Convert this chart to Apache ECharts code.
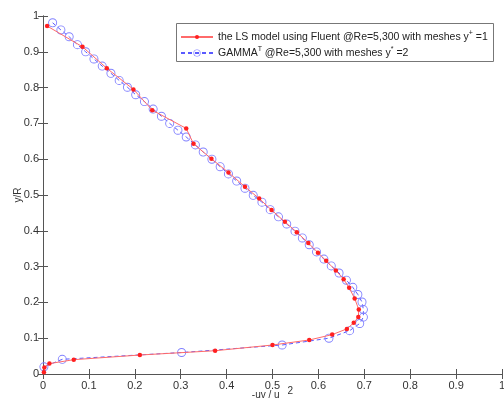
<!DOCTYPE html>
<html><head><meta charset="utf-8">
<script src="https://cdn.jsdelivr.net/npm/echarts@6/dist/echarts.min.js"></script>
<style>html,body{margin:0;padding:0;background:#fff}#c{width:504px;height:403px}</style>
</head><body><div id="c"></div>
<script>
var xTicks = [0,0.1,0.2,0.3,0.4,0.5,0.6,0.7,0.8,0.9,1];
var yTicks = [0,0.1,0.2,0.3,0.4,0.5,0.6,0.7,0.8,0.9,1];
var lsName = 'the LS model using Fluent @Re=5,300 with meshes y';
var gammaName = 'GAMMA';
// Red: LS model (Fluent)
var lsX = [0.009,0.086,0.139,0.197,0.238,0.312,0.328,0.367,0.404,0.440,0.471,0.498,0.527,0.553,0.578,0.599,0.617,0.638,0.655,0.667,0.679,0.688,0.687,0.677,0.662,0.630,0.580,0.500,0.375,0.211,0.067,0.014,0.003,0.002];
var lsY = [0.972,0.914,0.854,0.795,0.737,0.686,0.643,0.601,0.563,0.523,0.490,0.458,0.425,0.396,0.366,0.339,0.316,0.289,0.265,0.241,0.211,0.180,0.159,0.143,0.126,0.110,0.095,0.081,0.065,0.053,0.040,0.029,0.018,0.005];
// Blue: GAMMA^T
var gX = [0.021,0.039,0.057,0.075,0.093,0.111,0.129,0.148,0.166,0.184,0.202,0.221,0.240,0.258,0.276,0.294,0.312,0.332,0.349,0.368,0.386,0.404,0.422,0.440,0.458,0.477,0.495,0.513,0.531,0.549,0.565,0.580,0.596,0.612,0.628,0.645,0.661,0.675,0.686,0.695,0.698,0.698,0.690,0.668,0.623,0.521,0.302,0.042,0.002];
var gY = [0.981,0.961,0.942,0.920,0.900,0.880,0.860,0.840,0.820,0.801,0.780,0.761,0.740,0.720,0.700,0.681,0.662,0.640,0.620,0.600,0.579,0.559,0.539,0.519,0.499,0.480,0.459,0.439,0.419,0.399,0.380,0.361,0.341,0.321,0.302,0.282,0.262,0.242,0.222,0.201,0.180,0.159,0.141,0.121,0.100,0.081,0.060,0.041,0.020];

function pairs(xs, ys){ return xs.map(function(v,i){ return [v, ys[i]]; }); }
var font = 'Liberation Sans, Arial, sans-serif';
var axCol = '#555';
var txtCol = '#333';
// thin ring symbol (outer and inner circles with opposite winding)
var ring = 'path://M0,-10A10,10 0 1,1 0,10A10,10 0 1,1 0,-10ZM0,-8A8,8 0 1,0 0,8A8,8 0 1,0 0,-8Z';
var chart = echarts.init(document.getElementById('c'));
var baseAxis = {
  type:'value', min:0, max:1, interval:0.1,
  axisLine:{show:true, lineStyle:{color:axCol, width:1}},
  axisTick:{show:true, inside:true, length:5, lineStyle:{color:axCol}},
  splitLine:{show:false}
};
function ax(extra){ return Object.assign({}, JSON.parse(JSON.stringify(baseAxis)), extra); }
function fmt(list){ return function(v){ var t = list.filter(function(k){return Math.abs(k-v)<1e-9;}); return t.length? String(t[0]) : ''; }; }
var legTxt = {fontFamily:font, fontSize:10.5, color:'#222',
  rich:{sup:{fontSize:7, fontFamily:font, color:'#222', padding:[0,0,7,0]}}};
chart.setOption({
  animation:false,
  backgroundColor:'#fff',
  grid:{left:43, right:2, top:16, bottom:29, containLabel:false, outerBoundsMode:'none'},
  graphic:[{type:'rect', left:176, top:23, shape:{width:317, height:38},
    style:{fill:'#fff', stroke:'#777', lineWidth:1}, z:1}],
  legend:[
    {orient:'vertical', left:180, top:30, itemWidth:32, itemHeight:5, itemGap:4, padding:0,
     textStyle:legTxt, formatter:function(n){ return lsName + '{sup|+} =1'; }, data:[lsName], z:5},
    {orient:'vertical', left:180, top:46, itemWidth:32, itemHeight:9, itemGap:4, padding:0,
     textStyle:legTxt, formatter:function(n){ return gammaName + '{sup|T} @Re=5,300 with meshes y{sup|*} =2'; }, data:[gammaName], z:5}
  ],
  xAxis:[
    ax({position:'bottom',
      axisLabel:{color:txtCol, fontFamily:font, fontSize:11, margin:6, formatter:fmt(xTicks)},
      name:'-uv / u{s|2}', nameLocation:'middle', nameGap:12, nameMoveOverlap:false,
      nameTextStyle:{fontFamily:font, fontSize:10, color:txtCol,
        rich:{s:{fontSize:10, fontFamily:font, color:txtCol, padding:[0,0,8,8]}}}
    }),
    ax({position:'top', axisLabel:{show:false}})
  ],
  yAxis:[
    ax({position:'left',
      axisLabel:{color:txtCol, fontFamily:font, fontSize:11, margin:4, formatter:fmt(yTicks)},
      name:'y/R', nameLocation:'middle', nameGap:20, nameRotate:90, nameMoveOverlap:false,
      nameTextStyle:{fontFamily:font, fontSize:10, color:txtCol}
    }),
    ax({position:'right', axisLabel:{show:false}})
  ],
  series:[
    {name:lsName, type:'line', xAxisIndex:0, yAxisIndex:0,
     data:pairs(lsX, lsY), symbol:'circle', symbolSize:4.5, showSymbol:true, showAllSymbol:true,
     itemStyle:{color:'#ff2020'}, lineStyle:{color:'#ff6a6a', width:1}, z:3},
    {name:gammaName, type:'line', xAxisIndex:0, yAxisIndex:0,
     data:pairs(gX, gY), symbol:ring, symbolSize:9, showSymbol:true, showAllSymbol:true,
     itemStyle:{color:'#8080ff', borderWidth:0},
     lineStyle:{color:'#5a5aff', width:1, type:[4,3]}, z:2}
  ]
});
</script></body></html>
